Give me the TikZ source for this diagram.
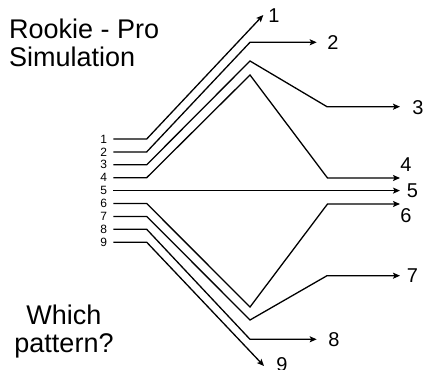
\documentclass[tikz,border=0pt]{standalone}
\usepackage{fontspec}
\setmainfont{Liberation Sans}
\usetikzlibrary{arrows.meta}
\begin{document}
\begin{tikzpicture}[x=1pt, y=-1pt,
    inlabel/.style ={anchor=east, inner xsep=6pt, inner ysep=1pt, font=\fontsize{12}{12}\selectfont},
    outlabel/.style ={inner sep=0pt, font=\fontsize{20}{22}\selectfont},
    bigtext/.style ={inner sep=0pt, font=\fontsize{27}{28}\selectfont},
    wire/.style ={line width=1.3pt},
    arrowwire/.style ={wire, -{Stealth[length=7pt, width=6pt, inset=1.5pt]}}]
   \useasboundingbox (0,0) rectangle (425,369);
   \node[bigtext, anchor=north west, align=left] (title) at (9,19) {Rookie - Pro\\Simulation};
   \node[bigtext, align=center] (question) at (64,332) {Which\\pattern?};
   \node[inlabel] (l1) at (113.3,139.0) {1};
   \node[inlabel] (l2) at (113.3,151.9) {2};
   \node[inlabel] (l3) at (113.3,164.8) {3};
   \node[inlabel] (l4) at (113.3,177.7) {4};
   \node[inlabel] (l5) at (113.3,190.6) {5};
   \node[inlabel] (l6) at (113.3,203.5) {6};
   \node[inlabel] (l7) at (113.3,216.4) {7};
   \node[inlabel] (l8) at (113.3,229.3) {8};
   \node[inlabel] (l9) at (113.3,242.2) {9};
   \coordinate (a1) at (146.7,139.0);
   \coordinate (a2) at (146.7,151.9);
   \coordinate (a3) at (146.7,164.8);
   \coordinate (a4) at (146.7,177.7);
   \coordinate (a6) at (146.7,203.5);
   \coordinate (a7) at (146.7,216.4);
   \coordinate (a8) at (146.7,229.3);
   \coordinate (a9) at (146.7,242.2);
   \coordinate (b2) at (250,42.3);
   \coordinate (b3) at (250,61);
   \coordinate (b4) at (250,75);
   \coordinate (b6) at (250,307);
   \coordinate (b7) at (250,320);
   \coordinate (b8) at (250,339.3);
   \coordinate (c3) at (327,106.7);
   \coordinate (c4) at (327.5,178);
   \coordinate (c6) at (327.5,204);
   \coordinate (c7) at (327,275.7);
   \coordinate (t1) at (263.3,15);
   \coordinate (t2) at (316.7,42.3);
   \coordinate (t3) at (400,106.7);
   \coordinate (t4) at (400,178);
   \coordinate (t5) at (400,190.6);
   \coordinate (t6) at (400,204);
   \coordinate (t7) at (400,275.7);
   \coordinate (t8) at (316.7,339.3);
   \coordinate (t9) at (264,366);
   \node[outlabel] (r1) at (274,15.5) {1};
   \node[outlabel] (r2) at (333,42.5) {2};
   \node[outlabel] (r3) at (418,107.5) {3};
   \node[outlabel] (r4) at (406,165) {4};
   \node[outlabel] (r5) at (412.5,190.5) {5};
   \node[outlabel] (r6) at (406,216) {6};
   \node[outlabel] (r7) at (412.5,275.5) {7};
   \node[outlabel] (r8) at (334,340) {8};
   \node[outlabel] (r9) at (282,365) {9};
   \draw[arrowwire] (l1) -- (a1) -- (t1);
   \draw[arrowwire] (l2) -- (a2) -- (b2) -- (t2);
   \draw[arrowwire] (l3) -- (a3) -- (b3) -- (c3) -- (t3);
   \draw[arrowwire] (l4) -- (a4) -- (b4) -- (c4) -- (t4);
   \draw[arrowwire] (l5) -- (t5);
   \draw[arrowwire] (l6) -- (a6) -- (b6) -- (c6) -- (t6);
   \draw[arrowwire] (l7) -- (a7) -- (b7) -- (c7) -- (t7);
   \draw[arrowwire] (l8) -- (a8) -- (b8) -- (t8);
   \draw[arrowwire] (l9) -- (a9) -- (t9);
\end{tikzpicture}
\end{document}
